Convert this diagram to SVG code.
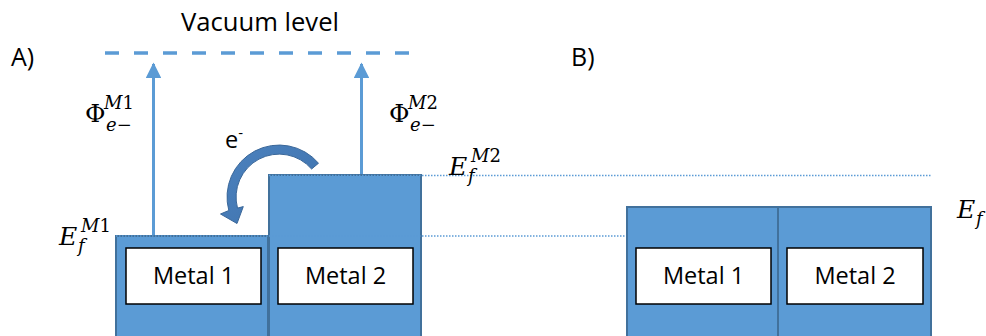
<svg xmlns="http://www.w3.org/2000/svg" width="986" height="336" viewBox="0 0 986 336">
  <style>
    .block { fill: #5B9BD5; stroke: #41719C; stroke-width: 2; }
    .box { fill: #FFFFFF; stroke: #000000; stroke-width: 1.5; }
    .lbl { font-family: "Open Sans", "Liberation Sans", sans-serif; font-size: 23.5px; fill: #000000; }
    .big { font-size: 25px; }
    .math { font-family: "DejaVu Serif", "Liberation Serif", serif; font-size: 25px; fill: #000000; }
    .it { font-style: italic; }
    .scr { font-family: "DejaVu Serif", "Liberation Serif", serif; font-size: 18px; fill: #000000; }
    .dot { stroke: #5B9BD5; stroke-width: 1.5; stroke-dasharray: 1.5 1.5; fill: none; }
    .vac { stroke: #5B9BD5; stroke-width: 3.5; stroke-dasharray: 14 15; fill: none; }
    .wf { stroke: #5B9BD5; stroke-width: 3; fill: none; }
  </style>
  <defs>
    <marker id="ah" viewBox="0 0 10 10" refX="9" refY="5" markerWidth="5.2" markerHeight="5.2" orient="auto" markerUnits="strokeWidth">
      <path d="M0,0 L10,5 L0,10 Z" fill="#5B9BD5"/>
    </marker>
    <linearGradient id="cg" x1="0" y1="0" x2="1" y2="1">
      <stop offset="0" stop-color="#4C82BE"/>
      <stop offset="1" stop-color="#3E72AD"/>
    </linearGradient>
  </defs>

  <!-- Panel labels -->
  <text id="label-A" class="lbl big" x="11" y="66">A)</text>
  <text id="label-B" class="lbl big" x="571" y="66">B)</text>
  <text id="label-vacuum" class="lbl big" x="181" y="31" textLength="158" lengthAdjust="spacingAndGlyphs">Vacuum level</text>

  <!-- Panel A nodes -->
  <g id="A-metal1">
    <rect class="block" x="116" y="236" width="152" height="110"/>
    <rect class="box" x="126" y="248" width="135" height="56"/>
    <text class="lbl" x="193.5" y="284" text-anchor="middle">Metal 1</text>
  </g>
  <g id="A-metal2">
    <rect class="block" x="269" y="175" width="152" height="171"/>
    <rect class="box" x="278" y="248" width="135" height="56"/>
    <text class="lbl" x="345.5" y="284" text-anchor="middle">Metal 2</text>
  </g>

  <!-- Panel B nodes -->
  <g id="B-metal1">
    <rect class="block" x="627" y="207" width="151" height="139"/>
    <rect class="box" x="636" y="248" width="135" height="56"/>
    <text class="lbl" x="703.5" y="284" text-anchor="middle">Metal 1</text>
  </g>
  <g id="B-metal2">
    <rect class="block" x="778" y="207" width="153" height="139"/>
    <rect class="box" x="787" y="248" width="136" height="56"/>
    <text class="lbl" x="855" y="284" text-anchor="middle">Metal 2</text>
  </g>

  <!-- Connectors: levels and arrows -->
  <g id="connectors">
    <line class="vac" x1="105" y1="53" x2="414" y2="53"/>
    <line class="dot" x1="269" y1="175.5" x2="932" y2="175.5"/>
    <line class="dot" x1="116" y1="236" x2="626" y2="236"/>
    <line class="wf" x1="153.5" y1="235" x2="153.5" y2="64" marker-end="url(#ah)"/>
    <line class="wf" x1="361.5" y1="174" x2="361.5" y2="64" marker-end="url(#ah)"/>
    <path id="electron-transfer" d="M318.5,163.2 A52,52 0 0 0 228.8,210.5 L220.5,214 L237,223.5 L243.3,206.6 L237.5,208.1 A43,43 0 0 1 311.6,169 Z" fill="url(#cg)" stroke="#3A6799" stroke-width="1"/>
  </g>

  <!-- Math labels -->
  <g id="phi-M1">
    <text class="math" x="85" y="122">Φ</text>
    <text class="scr" x="104" y="109"><tspan class="it">M</tspan>1</text>
    <text class="scr it" x="106" y="131">e−</text>
  </g>
  <g id="phi-M2">
    <text class="math" x="389" y="122">Φ</text>
    <text class="scr" x="408" y="109"><tspan class="it">M</tspan>2</text>
    <text class="scr it" x="410" y="131">e−</text>
  </g>
  <g id="Ef-M1">
    <text class="math it" x="59" y="245">E</text>
    <text class="scr it" x="78" y="252">f</text>
    <text class="scr" x="81" y="232"><tspan class="it">M</tspan>1</text>
  </g>
  <g id="Ef-M2">
    <text class="math it" x="449" y="175">E</text>
    <text class="scr it" x="468" y="182">f</text>
    <text class="scr" x="471" y="162"><tspan class="it">M</tspan>2</text>
  </g>
  <g id="Ef-B">
    <text class="math it" x="957" y="218">E</text>
    <text class="scr it" x="976" y="225">f</text>
  </g>
  <g id="electron-label">
    <text class="lbl" x="225" y="148">e<tspan font-size="15" dy="-10">-</tspan></text>
  </g>
</svg>
